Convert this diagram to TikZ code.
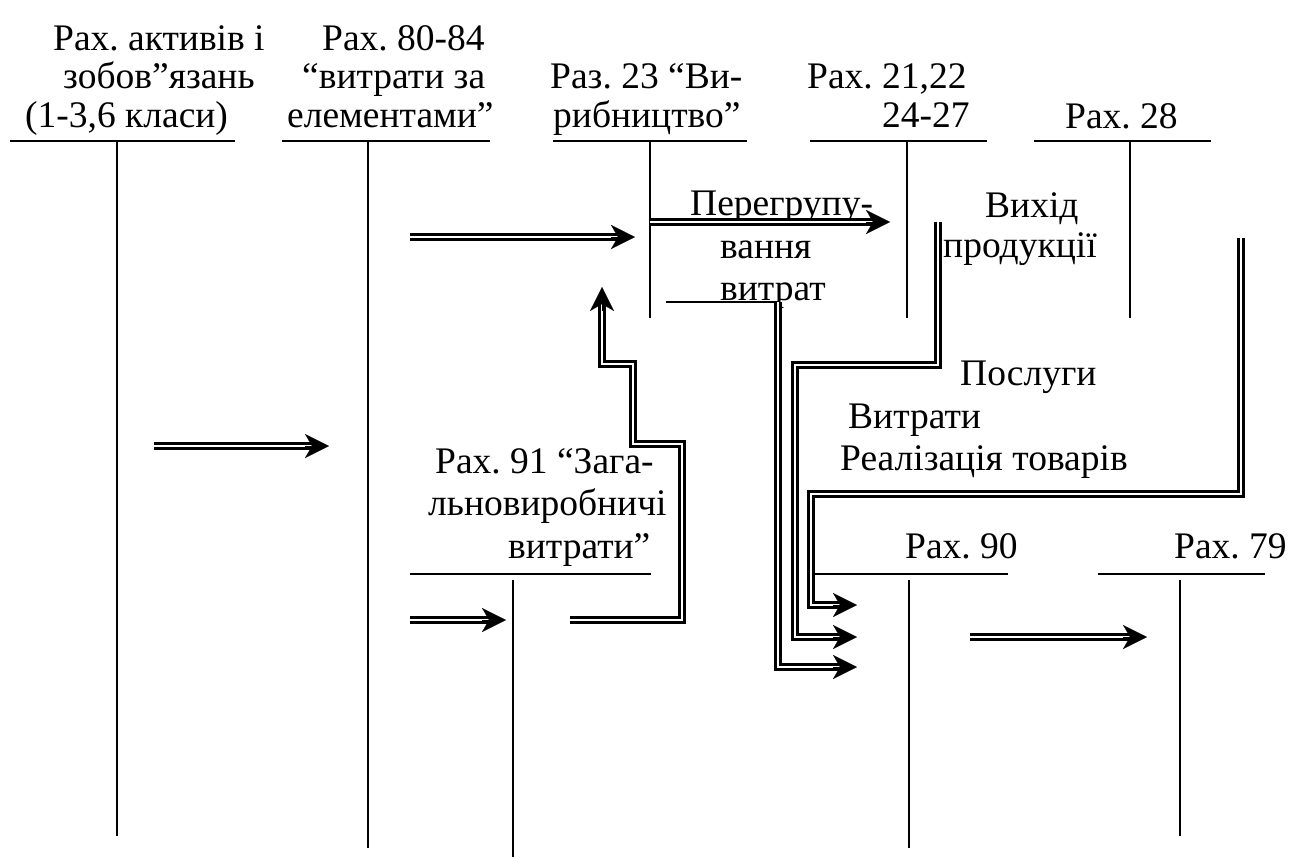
\documentclass[tikz,border=0pt]{standalone}
\usepackage{fontspec}
\setmainfont{Liberation Serif}
\usetikzlibrary{arrows.meta,calc}
\newcommand\dbtip[2]{\draw[tiponly] ($(#2)!24pt!(#1)$) -- (#2);}
\frenchspacing
\begin{document}
\begin{tikzpicture}[x=1pt,y=-1pt,
  lbl/.style={anchor=base west, inner sep=0pt, font=\fontsize{37.5}{42}\selectfont},
  tline/.style={line width=1.6pt},
  dbl/.style={double=white, double distance=2.8pt, line width=2.4pt, shorten >=11pt},
  tiponly/.style={line width=0.1pt, -{Stealth[length=24pt,width=24pt,inset=7pt]}},
]
\useasboundingbox[fill=white] (0,0) rectangle (1293,857);

% ---- account titles ----
\node[lbl] (a1) at (53,50) {Рах. активів і};
\node[lbl] (a2) at (63,88) {зобов”язань};
\node[lbl] (a3) at (25,127) {(1-3,6 класи)};
\node[lbl] (b1) at (322,50) {Рах. 80-84};
\node[lbl] (b2) at (302,88) {“витрати за};
\node[lbl] (b3) at (287,127) {елементами”};
\node[lbl] (c1) at (550,88) {Раз. 23 “Ви-};
\node[lbl] (c2) at (553,127) {рибництво”};
\node[lbl] (d1) at (807,88) {Рах. 21,22};
\node[lbl] (d2) at (882,127) {24-27};
\node[lbl] (e1) at (1065,128) {Рах. 28};
\node[lbl] (f1) at (435,473) {Рах. 91 “Зага-};
\node[lbl] (f2) at (428,515) {льновиробничі};
\node[lbl] (f3) at (508,558) {витрати”};
\node[lbl] (g1) at (905,558) {Рах. 90};
\node[lbl] (h1) at (1174,558) {Рах. 79};

% ---- flow labels ----
\node[lbl] (p1) at (690,215) {Перегрупу-};
\node[lbl] (p2) at (720,258) {вання};
\node[lbl] (p3) at (720,300) {витрат};
\node[lbl] (v1) at (985,217) {Вихід};
\node[lbl] (v2) at (943,257) {продукції};
\node[lbl] (s1) at (960,385) {Послуги};
\node[lbl] (s2) at (848,428) {Витрати};
\node[lbl] (s3) at (840,470) {Реалізація товарів};

% ---- T-accounts ----
\draw[tline] (10,141) -- (235,141);   \draw[tline] (117,141) -- (117,836);
\draw[tline] (282,141) -- (490,141);  \draw[tline] (368,141) -- (368,848);
\draw[tline] (553,141) -- (747,141);  \draw[tline] (650,141) -- (650,318);
\draw[tline] (810,141) -- (987,141);  \draw[tline] (907,141) -- (907,318);
\draw[tline] (1034,141) -- (1211,141);\draw[tline] (1130,141) -- (1130,318);
\draw[tline] (410,574) -- (651,574);  \draw[tline] (513,580) -- (513,857);
\draw[tline] (810,574) -- (1008,574); \draw[tline] (909,580) -- (909,848);
\draw[tline] (1098,574) -- (1265,574);\draw[tline] (1180,580) -- (1180,836);

% ---- connector points ----
\coordinate (k1a) at (154,446);  \coordinate (k1b) at (329,446);
\coordinate (k2a) at (410,237);  \coordinate (k2b) at (635,237);
\coordinate (k3a) at (650,222);  \coordinate (k3b) at (890,222);
\coordinate (k4a) at (410,620);  \coordinate (k4b) at (506,620);
\coordinate (k5a) at (570,620);  \coordinate (k5b) at (682,620);
\coordinate (k5c) at (682,444);  \coordinate (k5d) at (633,444);
\coordinate (k5e) at (633,364);  \coordinate (k5f) at (602,364);
\coordinate (k5g) at (602,287);
\coordinate (k6a) at (666,302);  \coordinate (k6b) at (778,302);
\coordinate (k6c) at (778,667);  \coordinate (k6d) at (857,667);
\coordinate (k7a) at (938,222);  \coordinate (k7b) at (938,365);
\coordinate (k7c) at (795,365);  \coordinate (k7d) at (795,637);
\coordinate (k7e) at (857,637);
\coordinate (k8a) at (1241,238); \coordinate (k8b) at (1241,494);
\coordinate (k8c) at (811,494);  \coordinate (k8d) at (811,605);
\coordinate (k8e) at (857,605);
\coordinate (k9a) at (970,637);  \coordinate (k9b) at (1147,637);

% ---- connectors ----
\draw[dbl] (k1a) -- (k1b); \dbtip{k1a}{k1b}
\draw[dbl] (k2a) -- (k2b); \dbtip{k2a}{k2b}
\draw[dbl] (k3a) -- (k3b); \dbtip{k3a}{k3b}
\draw[dbl] (k4a) -- (k4b); \dbtip{k4a}{k4b}
\draw[dbl] (k5a) -- (k5b) -- (k5c) -- (k5d) -- (k5e) -- (k5f) -- (k5g); \dbtip{k5f}{k5g}
\draw[tline] (k6a) -- (k6b);
\draw[dbl] (k6b) -- (k6c) -- (k6d); \dbtip{k6c}{k6d}
\draw[dbl] (k7a) -- (k7b) -- (k7c) -- (k7d) -- (k7e); \dbtip{k7d}{k7e}
\draw[dbl] (k8a) -- (k8b) -- (k8c) -- (k8d) -- (k8e); \dbtip{k8d}{k8e}
\draw[dbl] (k9a) -- (k9b); \dbtip{k9a}{k9b}
\end{tikzpicture}
\end{document}
